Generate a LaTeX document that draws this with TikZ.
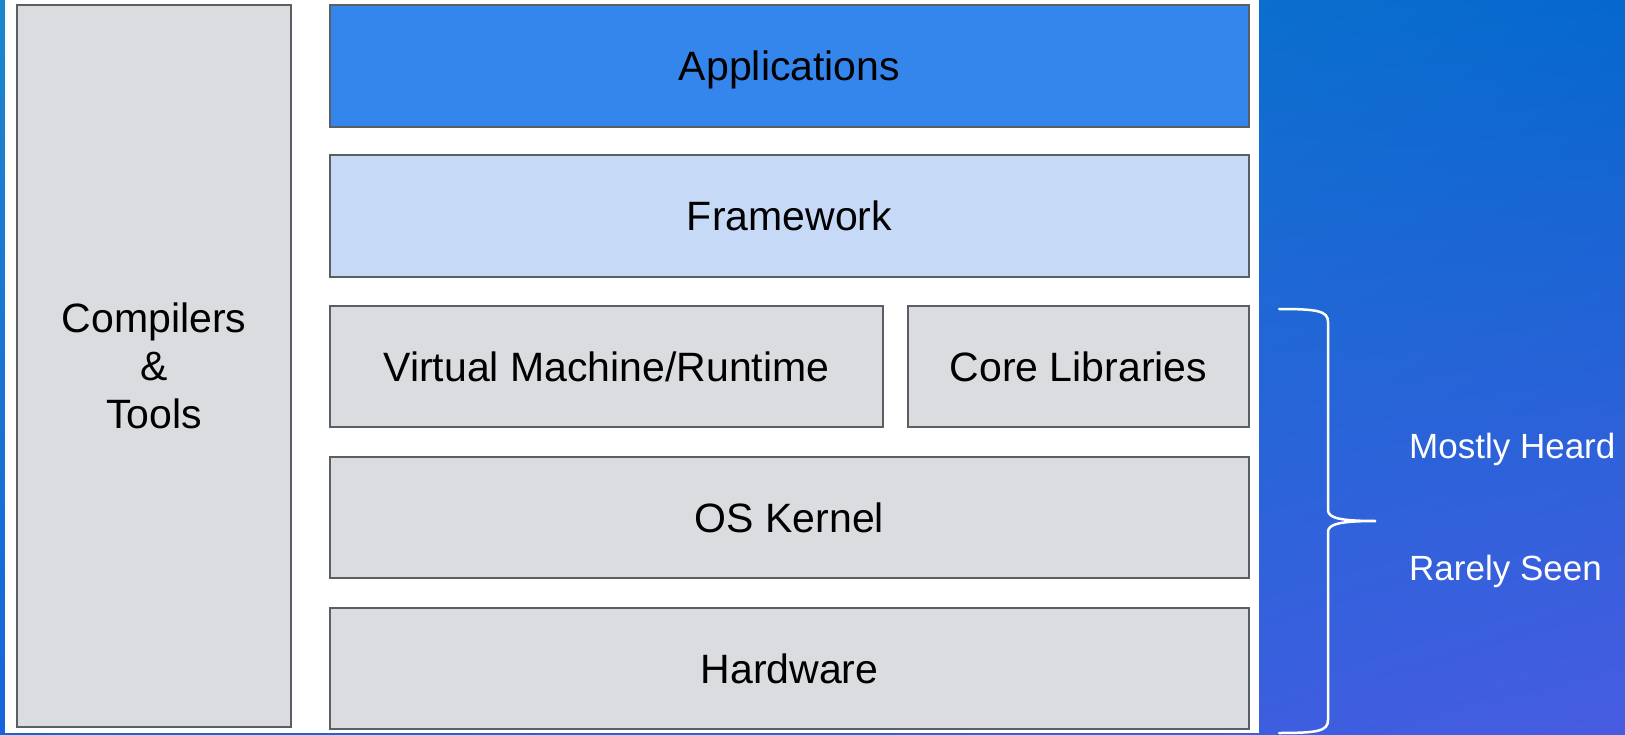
\documentclass[tikz,border=0pt]{standalone}
\usepackage{fontspec}
\setmainfont{Liberation Sans}
\usetikzlibrary{shadings}
\definecolor{appblue}{RGB}{52,134,236}
\definecolor{fwblue}{RGB}{198,218,248}
\definecolor{boxgray}{RGB}{218,220,223}
\definecolor{edgegray}{RGB}{90,95,100}
\definecolor{bgtl}{RGB}{28,134,205}
\definecolor{bgtr}{RGB}{5,104,206}
\definecolor{bgbl}{RGB}{22,100,218}
\definecolor{bgbr}{RGB}{72,92,225}

\begin{document}
\begin{tikzpicture}[x=1pt, y=-1pt,
    layer/.style={draw=edgegray, line width=2pt, fill=boxgray, inner sep=0pt,
      text height=29pt, text depth=0pt, font=\fontsize{41}{48}\selectfont},
    side/.style={draw=edgegray, line width=2pt, fill=boxgray, align=center,
      inner sep=0pt, font=\fontsize{41}{48}\selectfont},
    note/.style={text=white, anchor=base west, inner sep=0pt,
      font=\fontsize{35}{42}\selectfont},
    curly/.style={draw=white, line width=2.5pt, line cap=round}]
  \useasboundingbox (0,0) rectangle (1625,735);
  \shade[upper left=bgtl, upper right=bgtr, lower left=bgbl, lower right=bgbr]
    (0,0) rectangle (1625,735);
  \fill[white] (5,0) rectangle (1259,733);
  % left column
  \node[side, minimum width=274pt, minimum height=722pt] (tools) at (154,366) {Compilers\\\&\\Tools};
  % the stack
  \node[layer, fill=appblue, minimum width=919pt, minimum height=122pt] (apps) at (789.5,66) {Applications};
  \node[layer, fill=fwblue, minimum width=919pt, minimum height=122pt] (fw) at (789.5,216) {Framework};
  \node[layer, minimum width=553pt, minimum height=121pt] (vm) at (606.5,366.5) {Virtual Machine/Runtime};
  \node[layer, minimum width=341pt, minimum height=121pt] (corelib) at (1078.5,366.5) {Core Libraries};
  \node[layer, minimum width=919pt, minimum height=121pt] (kernel) at (789.5,517.5) {OS Kernel};
  \node[layer, minimum width=919pt, minimum height=121pt] (hw) at (789.5,668.5) {Hardware};
  % brace on the right
  \coordinate (btop) at (1279,309);
  \coordinate (btip) at (1376,521);
  \coordinate (bbot) at (1279,733);
  \draw[curly] (btop) .. controls (1318,309) and (1328,311) .. (1328,322)
    -- (1328,510) .. controls (1328,518) and (1340,521) .. (btip)
    .. controls (1340,521) and (1328,524) .. (1328,532)
    -- (1328,720) .. controls (1328,731) and (1318,733) .. (bbot);
  \node[note] (heard) at (1409,458) {Mostly Heard};
  \node[note] (seen) at (1409,580) {Rarely Seen};
\end{tikzpicture}
\end{document}
